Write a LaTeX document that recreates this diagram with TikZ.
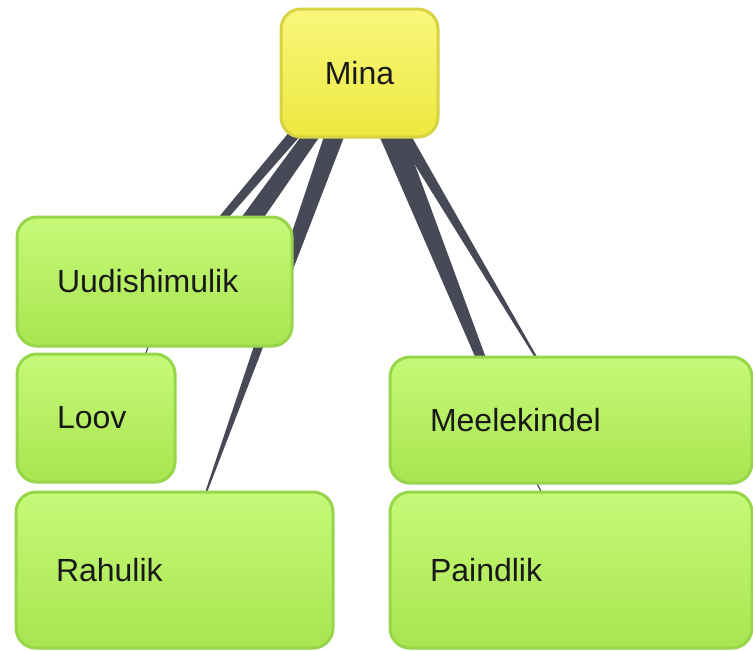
\documentclass[tikz,border=0pt]{standalone}
\usepackage{fontspec}
\setmainfont{Liberation Sans}
\usetikzlibrary{calc,backgrounds,shadows}

\definecolor{leaffill}{HTML}{C6F979}
\definecolor{leafshade}{HTML}{A8E54F}
\definecolor{leafline}{HTML}{97D54B}
\definecolor{rootfill}{HTML}{F9F77C}
\definecolor{rootshade}{HTML}{EDE83F}
\definecolor{rootline}{HTML}{D7D345}
\definecolor{linkgray}{HTML}{474A56}

\tikzset{
  box/.style = {rounded corners=10pt, line width=1.5pt, text=black!90,
    font=\fontsize{16}{19}\selectfont,
    drop shadow={opacity=0.12, shadow xshift=0pt, shadow yshift=-1pt}},
  root/.style = {box, draw=rootline, top color=rootfill, bottom color=rootshade,
    minimum width=78.5pt, minimum height=64pt},
  leaf/.style = {box, draw=leafline, top color=leaffill, bottom color=leafshade,
    inner xsep=20pt, align=left},
  link/.style = {fill=linkgray},
  twig/.style = {draw=linkgray, line width=0.6pt}
}

\begin{document}
\begin{tikzpicture}[x=0.5pt, y=-0.5pt]
\useasboundingbox (0,0) rectangle (753,650);

\node[root] (mina) at (359.5,73) {Mina};
\node[leaf, text width=97.5pt, minimum height=64.5pt] (uud) at (154.5,281.5) {Uudishimulik};
\node[leaf, text width=39pt, minimum height=64pt] (loov) at (96,418) {Loov};
\node[leaf, text width=118.5pt, minimum height=78pt] (rahulik) at (174.5,570) {Rahulik};
\node[leaf, text width=141pt, minimum height=63pt] (meel) at (571,420) {Meelekindel};
\node[leaf, text width=141pt, minimum height=78pt] (paind) at (571,570) {Paindlik};

\begin{scope}[on background layer]
% left branches
\fill[link] ($(mina.south)+(-61.5,-17)$) -- ($(uud.center)+(-4.5,18.5)$)
  -- ($(uud.center)+(1.5,18.5)$) -- ($(mina.south)+(-46.5,-17)$) -- cycle;
\fill[link] ($(mina.south)+(-47.5,-17)$) -- ($(uud.center)+(33.5,8.5)$)
  -- ($(uud.center)+(59.5,8.5)$) -- ($(mina.south)+(-29.5,-17)$) -- cycle;
\fill[link] ($(mina.south)+(-30.5,-17)$) -- ($(rahulik.north)+(30.5,2)$)
  -- ($(rahulik.north)+(32.5,2)$) -- ($(mina.south)+(-9.5,-17)$) -- cycle;
% right branches
\fill[link] ($(mina.south)+(13.5,-17)$) -- ($(meel.north)+(-93,8)$)
  -- ($(meel.north)+(-83,8)$) -- ($(mina.south)+(39.5,-17)$) -- cycle;
\fill[link] ($(mina.south)+(28.5,-17)$) -- ($(meel.north)+(-35.5,3)$)
  -- ($(meel.north)+(-33,3)$) -- ($(mina.south)+(43.5,-17)$) -- cycle;
% short ties between boxes
\draw[twig] ($(uud.south)+(-4.5,-6)$) -- ($(loov.north)+(48,6)$);
\draw[twig] ($(meel.south)+(-36,-5)$) -- ($(paind.north)+(-28,5)$);
\end{scope}
\end{tikzpicture}
\end{document}
